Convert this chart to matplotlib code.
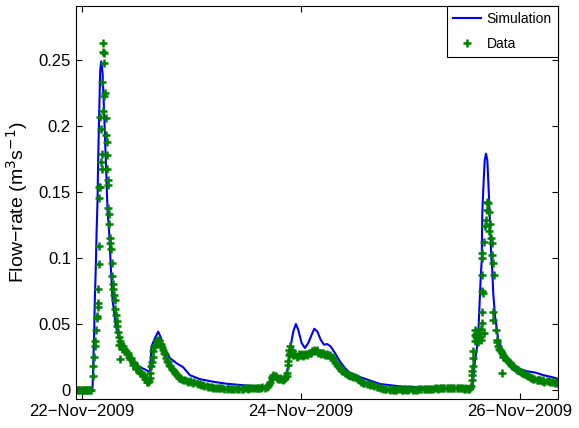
from matplotlib import pyplot as plt
import numpy as np

plt.rcParams['font.family'] = ['Liberation Sans', 'DejaVu Sans']

# time in days after 22-Nov-2009 00:00, flow-rate in m3/s
sim_t = [-0.052, 0.09, 0.100, 0.106, 0.115, 0.121, 0.130, 0.137, 0.146, 0.151, 0.161, 0.170,
         0.179, 0.192, 0.206, 0.222, 0.237, 0.252, 0.267, 0.283, 0.313, 0.359, 0.434, 0.511,
         0.587, 0.608, 0.623, 0.639, 0.669, 0.699, 0.721, 0.745, 0.806, 0.867, 0.927, 0.988,
         1.079, 1.201, 1.323, 1.444, 1.597, 1.688, 1.718, 1.764, 1.809, 1.855, 1.885, 1.901,
         1.931, 1.955, 1.976, 2.007, 2.037, 2.068, 2.099, 2.123, 2.150, 2.181, 2.211, 2.241,
         2.272, 2.311, 2.357, 2.402, 2.448, 2.539, 2.722, 2.904, 3.205, 3.513, 3.558, 3.567,
         3.573, 3.589, 3.604, 3.619, 3.628, 3.641, 3.650, 3.655, 3.668, 3.677, 3.689, 3.701,
         3.713, 3.725, 3.737, 3.746, 3.755, 3.771, 3.801, 3.847, 3.908, 3.984, 4.060, 4.136,
         4.212, 4.288, 4.355]
sim_q = [0.0, 0.0, 0.001, 0.018, 0.043, 0.068, 0.093, 0.119, 0.144, 0.172, 0.210, 0.242,
         0.249, 0.240, 0.210, 0.172, 0.136, 0.119, 0.093, 0.068, 0.048, 0.033, 0.023, 0.018,
         0.015, 0.014, 0.014, 0.033, 0.039, 0.044, 0.040, 0.033, 0.024, 0.020, 0.017, 0.011,
         0.008, 0.006, 0.0045, 0.0036, 0.0025, 0.002, 0.002, 0.0096, 0.0089, 0.0089, 0.0177, 0.030,
         0.044, 0.0498, 0.0455, 0.0354, 0.0316, 0.0354, 0.0417, 0.0462, 0.0442, 0.0379, 0.0341, 0.0346,
         0.0328, 0.0278, 0.0214, 0.0164, 0.0127, 0.0096, 0.0043, 0.0025, 0.0013, 0.0005, 0.0005, 0.0025,
         0.0076, 0.0227, 0.030, 0.043, 0.061, 0.086, 0.098, 0.134, 0.159, 0.174, 0.179, 0.174,
         0.152, 0.127, 0.101, 0.091, 0.073, 0.056, 0.038, 0.028, 0.021, 0.016, 0.014, 0.013,
         0.011, 0.0096, 0.008]

# gauged data, peaks and main features
data_t = [-0.05, -0.04, -0.03, -0.02, -0.01, 0.0, 0.01, 0.02, 0.03, 0.04, 0.05, 0.06, 0.07, 0.08, 0.09,
          0.100, 0.106, 0.115, 0.121, 0.122, 0.130, 0.137, 0.140, 0.146, 0.147, 0.151, 0.158, 0.159,
          0.161, 0.162, 0.167, 0.170, 0.176, 0.182, 0.183, 0.177, 0.183, 0.197, 0.201, 0.213, 0.206,
          0.197, 0.207, 0.192, 0.222, 0.222, 0.228, 0.231, 0.231, 0.237, 0.238, 0.243, 0.246, 0.252,
          0.261, 0.262, 0.267, 0.274, 0.279, 0.286, 0.288, 0.297, 0.301, 0.307, 0.313, 0.319, 0.325,
          0.331, 0.343, 0.349, 0.343, 0.349, 0.374, 0.404, 0.434, 0.465, 0.495, 0.526, 0.557, 0.593,
          0.608, 0.623, 0.632, 0.648, 0.662, 0.684, 0.705, 0.721, 0.735, 0.760, 0.790, 0.821, 0.851,
          0.881, 0.927, 0.988, 1.049, 1.109, 1.171, 1.20, 1.232, 1.25, 1.28, 1.323, 1.35, 1.37,
          1.414, 1.44, 1.47, 1.505, 1.53, 1.56, 1.597, 1.62, 1.65, 1.688, 1.71, 1.72, 1.734, 1.764,
          1.794, 1.839, 1.870, 1.882, 1.891, 1.900, 1.916, 1.931, 1.962, 1.992, 2.022, 2.053, 2.083,
          2.113, 2.144, 2.174, 2.204, 2.235, 2.265, 2.296, 2.327, 2.357, 2.387, 2.418, 2.464, 2.509,
          2.569, 2.631, 2.692, 2.752, 2.78, 2.81, 2.843, 2.87, 2.90, 2.934, 2.96, 2.99, 3.02, 3.057,
          3.09, 3.12, 3.15, 3.178, 3.21, 3.24, 3.27, 3.299, 3.33, 3.36, 3.39, 3.422, 3.45, 3.48,
          3.50, 3.527, 3.549, 3.558, 3.564, 3.564, 3.567, 3.570, 3.573, 3.589, 3.589, 3.589, 3.604,
          3.619, 3.634, 3.650, 3.650, 3.671, 3.664, 3.650, 3.655, 3.650, 3.651, 3.674, 3.680, 3.689,
          3.695, 3.701, 3.710, 3.719, 3.725, 3.716, 3.732, 3.741, 3.746, 3.750, 3.765, 3.755, 3.755,
          3.777, 3.786, 3.801, 3.817, 3.832, 3.832, 3.847, 3.878, 3.908, 3.938, 3.984, 4.029, 4.075,
          4.120, 4.181, 4.243, 4.304, 4.349]
data_q = [0.0, 0.0, 0.0, 0.0, 0.0, 0.0, 0.0, 0.0, 0.0, 0.0, 0.0, 0.0, 0.0, 0.0, 0.0,
          0.010, 0.018, 0.025, 0.033, 0.037, 0.045, 0.054, 0.056, 0.063, 0.066, 0.076, 0.095, 0.109,
          0.145, 0.154, 0.154, 0.207, 0.173, 0.167, 0.179, 0.198, 0.233, 0.211, 0.223, 0.225, 0.248,
          0.256, 0.255, 0.263, 0.206, 0.193, 0.188, 0.178, 0.167, 0.159, 0.155, 0.138, 0.133, 0.126,
          0.115, 0.111, 0.107, 0.096, 0.086, 0.080, 0.076, 0.072, 0.068, 0.061, 0.057, 0.052, 0.048,
          0.044, 0.040, 0.037, 0.034, 0.023, 0.033, 0.029, 0.025, 0.021, 0.018, 0.014, 0.011, 0.0076,
          0.0055, 0.0089, 0.018, 0.025, 0.032, 0.037, 0.038, 0.035, 0.032, 0.027, 0.021, 0.016, 0.013,
          0.010, 0.0076, 0.0063, 0.0051, 0.0038, 0.002, 0.0015, 0.0013, 0.0012, 0.001, 0.0005, 0.0005, 0.0008,
          0.0005, 0.0005, 0.0008, 0.001, 0.001, 0.0012, 0.0013, 0.0015, 0.0018, 0.002, 0.004, 0.006, 0.0089, 0.0106,
          0.0081, 0.0076, 0.010, 0.019, 0.0265, 0.0328, 0.030, 0.0265, 0.025, 0.0265, 0.0258, 0.0265, 0.0278,
          0.029, 0.030, 0.028, 0.0278, 0.0265, 0.0265, 0.0227, 0.019, 0.0164, 0.0139, 0.0121, 0.0106, 0.0089,
          0.0051, 0.0038, 0.002, 0.0005, 0.0003, 0.0, 0.0, 0.0, 0.0003, 0.0, 0.0, 0.0003, 0.0, 0.0,
          0.0003, 0.0003, 0.0005, 0.0005, 0.0008, 0.001, 0.0013, 0.0013, 0.0013, 0.0013, 0.001, 0.0013, 0.0013, 0.001,
          0.0008, 0.0005, 0.0025, 0.0076, 0.0139, 0.011, 0.0177, 0.024, 0.029, 0.0366, 0.0417, 0.0455, 0.044,
          0.038, 0.040, 0.0505, 0.059, 0.043, 0.073, 0.0745, 0.087, 0.0998, 0.1035, 0.112, 0.124, 0.129,
          0.136, 0.1427, 0.1415, 0.135, 0.126, 0.120, 0.115, 0.111, 0.102, 0.096, 0.087, 0.059, 0.053,
          0.0455, 0.038, 0.033, 0.030, 0.028, 0.0127, 0.025, 0.0227, 0.020, 0.0177, 0.015, 0.0127, 0.010,
          0.0081, 0.007, 0.0063, 0.0055, 0.0051]

# more gauged data along the recessions and low-flow periods
band_t = [0.36, 0.37, 0.39, 0.41, 0.42, 0.44, 0.45, 0.47, 0.48, 0.50, 0.51, 0.53, 0.54, 0.56, 0.57,
          0.58, 0.60, 0.615, 0.627, 0.638, 0.655, 0.67, 0.69, 0.695, 0.71, 0.728, 0.745, 0.75, 0.77,
          0.78, 0.80, 0.81, 0.83, 0.84, 0.86, 0.87, 0.89, 0.90, 0.91, 0.94, 0.96, 0.97, 1.00, 1.02,
          1.03, 1.06, 1.08, 1.09, 1.12, 1.14, 1.15, 1.19, 1.22, 1.26, 1.30, 1.34, 1.39, 1.42, 1.46,
          1.49, 1.52, 1.55, 1.58, 1.61, 1.64, 1.67, 1.70, 1.74, 1.75, 1.77, 1.78, 1.80, 1.81, 1.82,
          1.83, 1.85, 1.86, 1.875, 1.886, 1.895, 1.905, 1.92, 1.94, 1.95, 1.97, 1.98, 2.00, 2.01,
          2.03, 2.04, 2.06, 2.07, 2.09, 2.10, 2.12, 2.13, 2.15, 2.16, 2.18, 2.19, 2.21, 2.22, 2.24,
          2.25, 2.28, 2.29, 2.31, 2.32, 2.34, 2.35, 2.37, 2.38, 2.40, 2.41, 2.43, 2.44, 2.45, 2.48,
          2.49, 2.52, 2.53, 2.55, 2.58, 2.60, 2.62, 2.65, 2.67, 2.70, 2.72, 2.74, 2.77, 2.80, 2.83,
          2.86, 2.89, 2.92, 2.95, 2.98, 3.01, 3.04, 3.07, 3.10, 3.13, 3.16, 3.19, 3.22, 3.25, 3.28,
          3.31, 3.34, 3.37, 3.40, 3.43, 3.46, 3.49, 3.51, 3.535, 3.54, 3.595, 3.60, 3.61, 3.615,
          3.625, 3.63, 3.64, 3.645, 3.79, 3.81, 3.825, 3.84, 3.855, 3.87, 3.885, 3.90, 3.915, 3.93,
          3.945, 3.96, 3.975, 3.99, 4.005, 4.02, 4.04, 4.055, 4.07, 4.09, 4.10, 4.11, 4.13, 4.15,
          4.16, 4.17, 4.20, 4.21, 4.22, 4.26, 4.27, 4.29, 4.32, 4.33, 4.34]
band_q = [0.035, 0.031, 0.031, 0.027, 0.028, 0.023, 0.024, 0.019, 0.020, 0.016, 0.017, 0.013, 0.013, 0.010, 0.011,
          0.008, 0.006, 0.0065, 0.013, 0.021, 0.029, 0.034, 0.038, 0.036, 0.037, 0.033, 0.030, 0.028, 0.024,
          0.022, 0.019, 0.018, 0.015, 0.014, 0.012, 0.011, 0.009, 0.0085, 0.008, 0.007, 0.0065, 0.0055, 0.006, 0.0048,
          0.0055, 0.004, 0.0045, 0.0035, 0.003, 0.0028, 0.002, 0.0018, 0.001, 0.0015, 0.0008, 0.001, 0.0008, 0.001, 0.0005,
          0.001, 0.0008, 0.0013, 0.001, 0.0013, 0.0015, 0.0013, 0.0025, 0.0095, 0.011, 0.0105, 0.009, 0.008, 0.0085, 0.0078,
          0.008, 0.008, 0.0085, 0.013, 0.022, 0.030, 0.028, 0.027, 0.026, 0.027, 0.0255, 0.027, 0.026, 0.027,
          0.026, 0.027, 0.027, 0.028, 0.028, 0.029, 0.030, 0.029, 0.029, 0.028, 0.027, 0.028, 0.027, 0.026, 0.027,
          0.026, 0.025, 0.024, 0.021, 0.020, 0.018, 0.017, 0.015, 0.0145, 0.013, 0.0125, 0.0115, 0.011, 0.0105, 0.0095,
          0.0095, 0.008, 0.007, 0.006, 0.005, 0.0045, 0.004, 0.0035, 0.003, 0.002, 0.0015, 0.001, 0.0005, 0.0005, 0.0003,
          0.0, 0.0003, 0.0, 0.0003, 0.0, 0.0003, 0.0, 0.0003, 0.0005, 0.0003, 0.0008, 0.0005, 0.001, 0.0008, 0.001,
          0.0013, 0.001, 0.0013, 0.0013, 0.001, 0.0013, 0.0008, 0.001, 0.0008, 0.0013, 0.040, 0.042, 0.038, 0.036,
          0.041, 0.043, 0.038, 0.046, 0.036, 0.031, 0.029, 0.026, 0.025, 0.023, 0.022, 0.021, 0.019, 0.018,
          0.017, 0.016, 0.015, 0.014, 0.0135, 0.013, 0.012, 0.011, 0.0105, 0.0095, 0.009, 0.0085, 0.008, 0.0075,
          0.007, 0.0075, 0.0065, 0.007, 0.006, 0.0065, 0.0055, 0.006, 0.005, 0.0055, 0.005]

tick_pos = [0, 2, 4]
tick_labels = ['22\u2212Nov\u22122009', '24\u2212Nov\u22122009', '26\u2212Nov\u22122009']

fig = plt.figure(figsize=(5.79, 4.28), dpi=100)
ax = fig.add_axes([0.131, 0.068, 0.833, 0.918])

green = (0, 0.5, 0)
ax.plot(sim_t, sim_q, color='b', lw=1.5, label='Simulation')
ax.plot(data_t + band_t, data_q + band_q, '+', color=green, ms=5.5, mew=1.8, label='Data')

ax.set_xlim(-0.052, 4.347)
ax.set_ylim(-0.007, 0.291)
ax.set_xticks(tick_pos)
ax.set_xticklabels(tick_labels)
ax.set_yticks([0, 0.05, 0.1, 0.15, 0.2, 0.25])
ax.set_yticklabels(['0', '0.05', '0.1', '0.15', '0.2', '0.25'])
ax.tick_params(direction='in', top=True, right=True, labelsize=12, length=4)
ax.set_ylabel('Flow\u2212rate (m$^3$s$^{-1}$)', fontsize=14, labelpad=6)

leg = ax.legend(loc='upper right', fancybox=False, edgecolor='k', fontsize=10,
                borderaxespad=0, handlelength=2.0, handletextpad=0.4,
                labelspacing=0.75, borderpad=0.45, framealpha=1)
leg.get_frame().set_linewidth(0.8)

fig.savefig('out.png')
